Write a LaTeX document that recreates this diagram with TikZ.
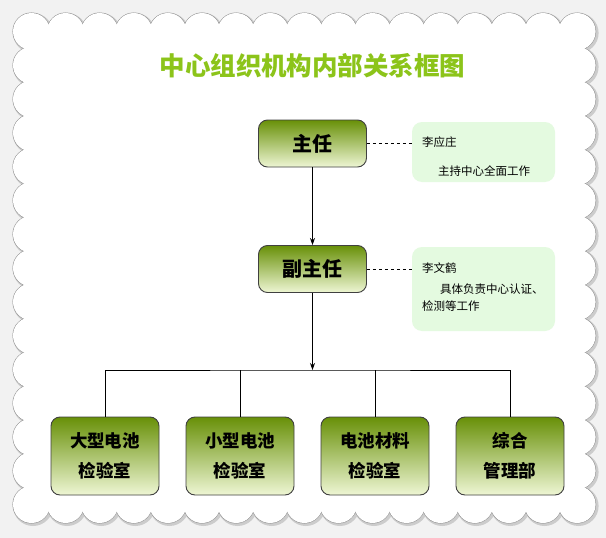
\documentclass[tikz,border=0pt]{standalone}
\usepackage{fontspec}
\setmainfont{Noto Sans CJK SC}
\usetikzlibrary{shapes,arrows,arrows.meta,positioning}
\definecolor{leafgreen}{RGB}{140,196,26}
\definecolor{olivetop}{RGB}{104,144,8}
\definecolor{olivemid}{RGB}{150,186,60}
\definecolor{olivebot}{RGB}{238,246,212}
\definecolor{mint}{RGB}{228,250,224}
\definecolor{paper}{RGB}{242,242,242}

\begin{document}
\begin{tikzpicture}[x=1pt, y=-1pt, line width=0.9pt,
                    >={Stealth[length=7pt, width=5pt]}]
\tikzset{post/.style={rectangle, rounded corners=9pt, draw=black!75,
                      top color=olivetop, middle color=olivemid,
                      bottom color=olivebot,
                      minimum width=108pt, minimum height=47pt,
                      font=\fontsize{20}{24}\selectfont\bfseries},
         lab/.style={post, minimum height=78pt, align=center,
                     font=\fontsize{17.5}{30}\selectfont\bfseries},
         memo/.style={rectangle, rounded corners=10pt, fill=mint,
                      minimum width=143pt},
         memotext/.style={inner sep=0pt, align=left,
                          font=\fontsize{11.5}{17}\selectfont},
         rimshade/.style={draw=black!20, line width=3pt, shift={(1.5,1.5)}},
         rim/.style={draw=black!45, line width=1pt},
         rimfill/.style={fill=white}}

\useasboundingbox (0,0) rectangle (606,538);
\fill[paper] (0,0) rectangle (606,538);

% scalloped sheet
\foreach \sty in {rimshade, rim, rimfill}{
  \foreach \k in {0,...,16}{
    \path[\sty] (31.5+34.1*\k, 31.5) circle (18.5pt)
                (31.5+34.1*\k, 504.5) circle (18.5pt);
  }
  \foreach \k in {1,...,13}{
    \path[\sty] (31.5, 31.5+33.79*\k) circle (18.5pt)
                (577.1, 31.5+33.79*\k) circle (18.5pt);
  }
}
\fill[white] (31.5,31.5) rectangle (577.1,504.5);

\node(title) [text=leafgreen, font=\fontsize{25.5}{30}\selectfont\bfseries]
  at (312.5,66) {中心组织机构内部关系框图};

\node(chief) [post] at (312.5,143.5) {主任};
\node(vice) [post, below of=chief, node distance=125.5pt] {副主任};

\node(memoA) [memo, minimum height=60pt, right of=chief,
              node distance=171pt, yshift=-8.5pt] {};
\node(noteA) [memotext, below right=15pt and 10pt of memoA.north west]
  {李应庄\\[12pt]
   \hspace{16pt}主持中心全面工作};

\node(memoB) [memo, minimum height=84pt, right of=vice,
              node distance=171pt, yshift=-20pt] {};
\node(noteB) [memotext, below right=16pt and 10pt of memoB.north west]
  {李文鹤\\[4pt]
   \hspace{18pt}具体负责中心认证、\\
   检测等工作};

\node(labA) [lab] at (105,456) {大型电池\\检验室};
\node(labB) [lab, right of=labA, node distance=135pt] {小型电池\\检验室};
\node(labC) [lab, right of=labB, node distance=135pt] {电池材料\\检验室};
\node(labD) [lab, right of=labC, node distance=135pt] {综合\\管理部};

\coordinate(bus) at (312.5,370);

\draw[->] (chief) -- (vice);
\draw[->] (vice) -- (bus);
\draw (labA.north) |- (bus) -| (labD.north);
\draw (labB.north) -- (labB.north |- bus);
\draw (labC.north) -- (labC.north |- bus);

\draw[dashed] (chief.east) -- (chief.east -| memoA.west);
\draw[dashed] (vice.east) -- (vice.east -| memoB.west);

\end{tikzpicture}
\end{document}
